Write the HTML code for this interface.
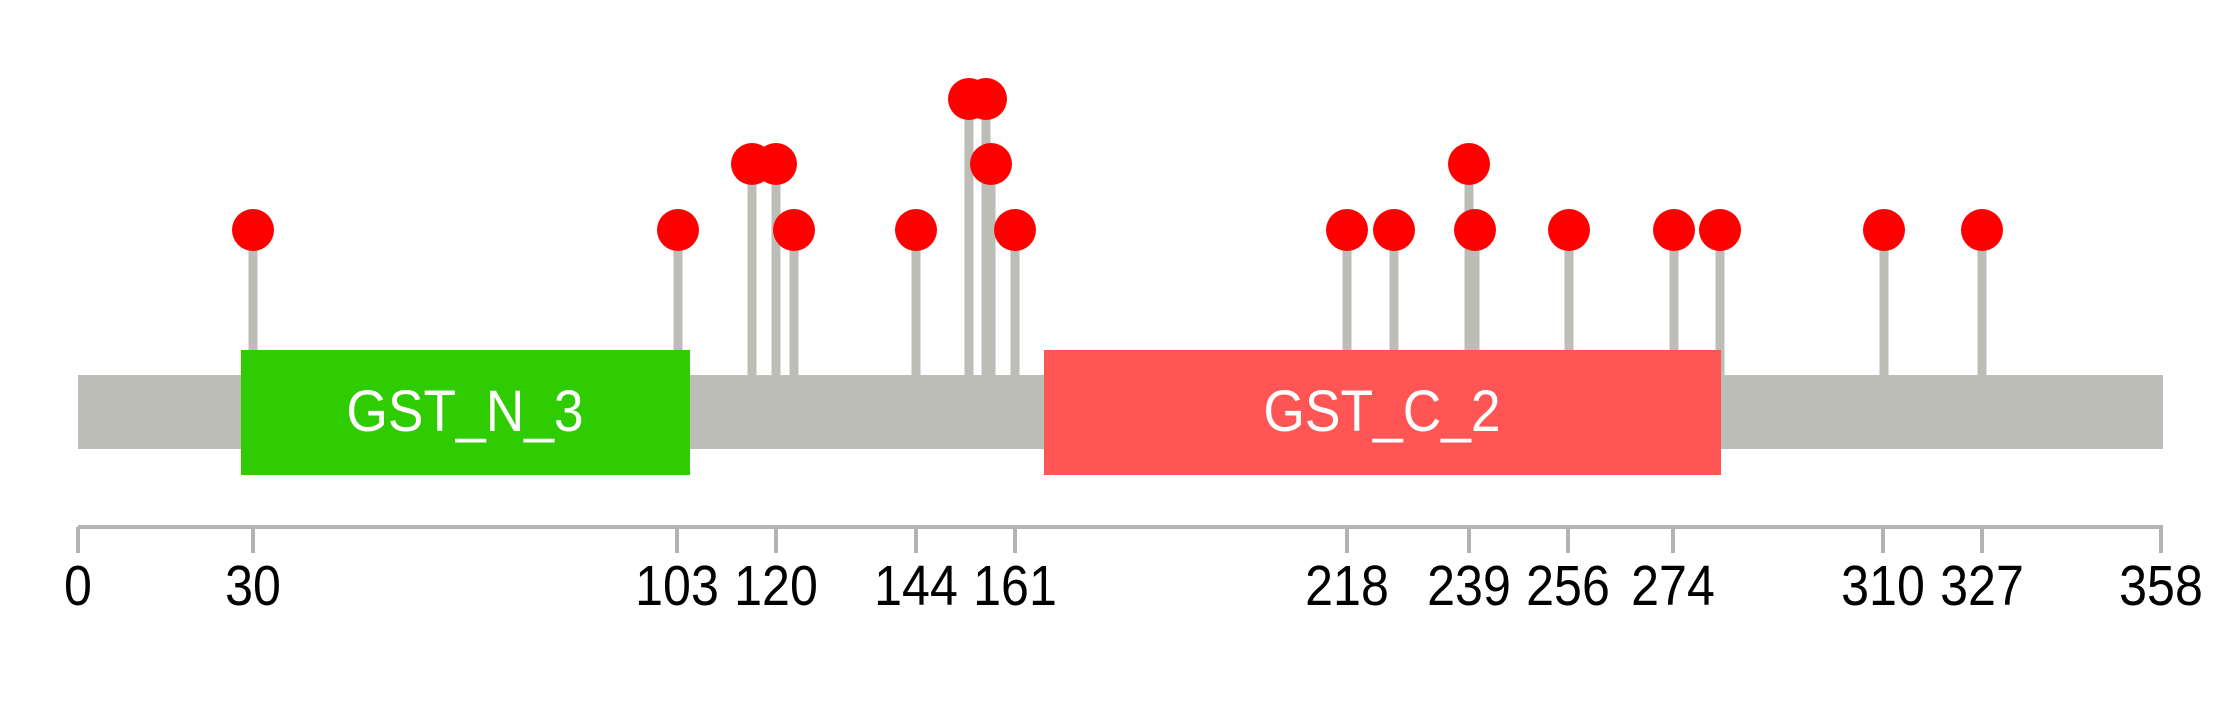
<!DOCTYPE html>
<html><head><meta charset="utf-8"><style>html,body{margin:0;padding:0;background:#fff}svg{display:block}</style></head>
<body>
<svg width="2239" height="708" viewBox="0 0 2239 708" xmlns="http://www.w3.org/2000/svg" font-family="Liberation Sans, Arial, sans-serif">
<g stroke="#bbbdb6" stroke-width="9">
<line x1="253" y1="230" x2="253" y2="376"/>
<line x1="678" y1="230" x2="678" y2="376"/>
<line x1="752" y1="164" x2="752" y2="376"/>
<line x1="776" y1="164" x2="776" y2="376"/>
<line x1="794" y1="230" x2="794" y2="376"/>
<line x1="916" y1="230" x2="916" y2="376"/>
<line x1="969" y1="99" x2="969" y2="376"/>
<line x1="986" y1="99" x2="986" y2="376"/>
<line x1="991" y1="164" x2="991" y2="376"/>
<line x1="1015" y1="230" x2="1015" y2="376"/>
<line x1="1347" y1="230" x2="1347" y2="376"/>
<line x1="1394" y1="230" x2="1394" y2="376"/>
<line x1="1469" y1="164" x2="1469" y2="376"/>
<line x1="1475" y1="230" x2="1475" y2="376"/>
<line x1="1569" y1="230" x2="1569" y2="376"/>
<line x1="1674" y1="230" x2="1674" y2="376"/>
<line x1="1720" y1="230" x2="1720" y2="376"/>
<line x1="1884" y1="230" x2="1884" y2="376"/>
<line x1="1982" y1="230" x2="1982" y2="376"/>
</g>
<rect x="78" y="375" width="2085" height="74" fill="#bbbdb6"/>
<rect x="241" y="350" width="449" height="125" fill="#2ecc00"/>
<rect x="1044" y="350" width="677" height="125" fill="#ff5555"/>
<text transform="translate(465,431) scale(0.92,1)" font-size="58" fill="#fff" text-anchor="middle">GST_N_3</text>
<text transform="translate(1382,431) scale(0.92,1)" font-size="58" fill="#fff" text-anchor="middle">GST_C_2</text>
<g fill="#ff0000">
<circle cx="253" cy="230" r="21"/><circle cx="678" cy="230" r="21"/>
<circle cx="752" cy="164" r="21"/><circle cx="776" cy="164" r="21"/>
<circle cx="794" cy="230" r="21"/><circle cx="916" cy="230" r="21"/>
<circle cx="969" cy="99" r="21"/><circle cx="986" cy="99" r="21"/>
<circle cx="991" cy="164" r="21"/><circle cx="1015" cy="230" r="21"/>
<circle cx="1347" cy="230" r="21"/><circle cx="1394" cy="230" r="21"/>
<circle cx="1469" cy="164" r="21"/><circle cx="1475" cy="230" r="21"/>
<circle cx="1569" cy="230" r="21"/><circle cx="1674" cy="230" r="21"/>
<circle cx="1720" cy="230" r="21"/><circle cx="1884" cy="230" r="21"/>
<circle cx="1982" cy="230" r="21"/>
</g>
<g stroke="#b3b3b3" stroke-width="4">
<line x1="78" y1="527" x2="2163" y2="527"/>
<line x1="78" y1="527" x2="78" y2="553"/>
<line x1="253" y1="527" x2="253" y2="553"/>
<line x1="677" y1="527" x2="677" y2="553"/>
<line x1="776" y1="527" x2="776" y2="553"/>
<line x1="916" y1="527" x2="916" y2="553"/>
<line x1="1015" y1="527" x2="1015" y2="553"/>
<line x1="1347" y1="527" x2="1347" y2="553"/>
<line x1="1469" y1="527" x2="1469" y2="553"/>
<line x1="1568" y1="527" x2="1568" y2="553"/>
<line x1="1673" y1="527" x2="1673" y2="553"/>
<line x1="1883" y1="527" x2="1883" y2="553"/>
<line x1="1982" y1="527" x2="1982" y2="553"/>
<line x1="2161" y1="527" x2="2161" y2="553"/>
</g>
<g font-size="57" fill="#000" text-anchor="middle">
<text transform="translate(78,605) scale(0.88,1)">0</text>
<text transform="translate(253,605) scale(0.88,1)">30</text>
<text transform="translate(677,605) scale(0.88,1)">103</text>
<text transform="translate(776,605) scale(0.88,1)">120</text>
<text transform="translate(916,605) scale(0.88,1)">144</text>
<text transform="translate(1015,605) scale(0.88,1)">161</text>
<text transform="translate(1347,605) scale(0.88,1)">218</text>
<text transform="translate(1469,605) scale(0.88,1)">239</text>
<text transform="translate(1568,605) scale(0.88,1)">256</text>
<text transform="translate(1673,605) scale(0.88,1)">274</text>
<text transform="translate(1883,605) scale(0.88,1)">310</text>
<text transform="translate(1982,605) scale(0.88,1)">327</text>
<text transform="translate(2161,605) scale(0.88,1)">358</text>
</g>
</svg>
</body></html>
